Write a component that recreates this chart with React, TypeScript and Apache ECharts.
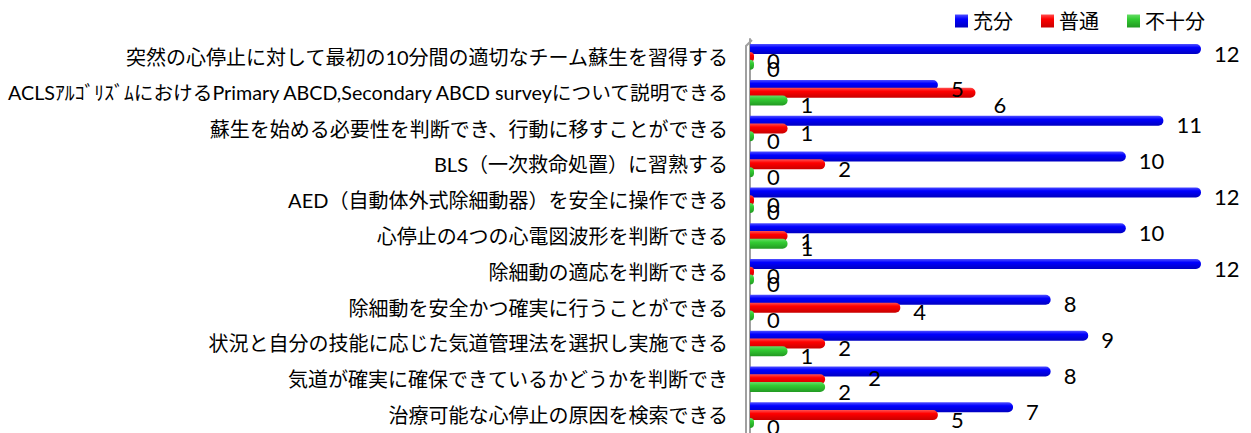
import React, { useEffect, useRef } from "react";
import * as echarts from "echarts";

const categories = [
  "突然の心停止に対して最初の10分間の適切なチーム蘇生を習得する",
  "ACLSｱﾙｺﾞﾘｽﾞﾑにおけるPrimary ABCD,Secondary ABCD surveyについて説明できる",
  "蘇生を始める必要性を判断でき、行動に移すことができる",
  "BLS（一次救命処置）に習熟する",
  "AED（自動体外式除細動器）を安全に操作できる",
  "心停止の4つの心電図波形を判断できる",
  "除細動の適応を判断できる",
  "除細動を安全かつ確実に行うことができる",
  "状況と自分の技能に応じた気道管理法を選択し実施できる",
  "気道が確実に確保できているかどうかを判断でき",
  "治療可能な心停止の原因を検索できる",
];

const seriesNames = ["充分", "普通", "不十分"];
const sufficient = [12, 5, 11, 10, 12, 10, 12, 8, 9, 8, 7];
const normal = [0, 6, 1, 2, 0, 1, 0, 4, 2, 2, 5];
const insufficient = [0, 1, 0, 0, 0, 1, 0, 0, 1, 2, 0];

const colors = ["#0000ff", "#ff0000", "#33cc33"];
const lightColors = ["#5050ff", "#ff5050", "#66dd66"];
const darkColors = ["#0000c0", "#c80000", "#229922"];

const FONT = "Lato, 'Noto Sans CJK JP', sans-serif";

// label nudges (series index -> category index -> offset), to mimic the reference's label placement
const labelNudges: Record<number, Record<number, [number, number]>> = {
  1: { 1: [5, 12], 9: [30, -2] },
};

export default function App() {
  const ref = useRef<HTMLDivElement>(null);
  useEffect(() => {
    if (!ref.current) return;
    const chart = echarts.init(ref.current, undefined, { renderer: "svg" });
    const datasets = [sufficient, normal, insufficient];
    chart.setOption({
      animation: false,
      textStyle: { fontFamily: FONT },
      legend: {
        data: seriesNames,
        left: 950,
        top: 6,
        icon: "rect",
        itemWidth: 13,
        itemHeight: 13,
        itemGap: 28,
        textStyle: { fontSize: 20, color: "#000", fontFamily: FONT },
      },
      grid: {
        left: 750,
        right: 50,
        top: 39,
        bottom: 0,
        containLabel: false,
        outerBoundsMode: "none",
      },
      xAxis: {
        type: "value",
        min: 0,
        max: 12,
        show: false,
      },
      yAxis: {
        type: "category",
        data: categories,
        inverse: true,
        axisLine: { show: true, lineStyle: { color: "#a0a0a0", width: 2 } },
        axisTick: { show: false },
        axisLabel: {
          fontSize: 20,
          color: "#000",
          margin: 22,
          fontFamily: FONT,
          formatter: (v: string, i: number) => (i === 1 ? `{n|${v}}` : v),
          rich: { n: { fontSize: 19.7, color: "#000", fontFamily: FONT } },
        },
      },
      graphic: [
        {
          type: "polyline",
          shape: { points: [[746, 433], [746, 46], [752, 40]] },
          style: { stroke: "#a0a0a0", lineWidth: 2, fill: "none" },
          silent: true,
        },
      ],
      series: datasets.map((d, i) => ({
        name: seriesNames[i],
        type: "bar",
        data: d.map((v, j) => {
          const nudge = labelNudges[i] && labelNudges[i][j];
          return nudge ? { value: v, label: { offset: nudge } } : v;
        }),
        barWidth: 10,
        barGap: "-22%",
        barMinHeight: 4,
        itemStyle: {
          borderRadius: [0, 5, 5, 0],
          color: new echarts.graphic.LinearGradient(0, 0, 0, 1, [
            { offset: 0, color: lightColors[i] },
            { offset: 0.35, color: colors[i] },
            { offset: 1, color: darkColors[i] },
          ]),
        },
        label: {
          show: true,
          position: "right",
          distance: 13,
          offset: [0, 4],
          fontSize: 22,
          color: "#000",
          fontFamily: "Lato, sans-serif",
        },
      })),
    });
    return () => chart.dispose();
  }, []);
  return (
    <div
      ref={ref}
      style={{ position: "absolute", left: 0, top: 0, width: 1251, height: 433 }}
    />
  );
}
